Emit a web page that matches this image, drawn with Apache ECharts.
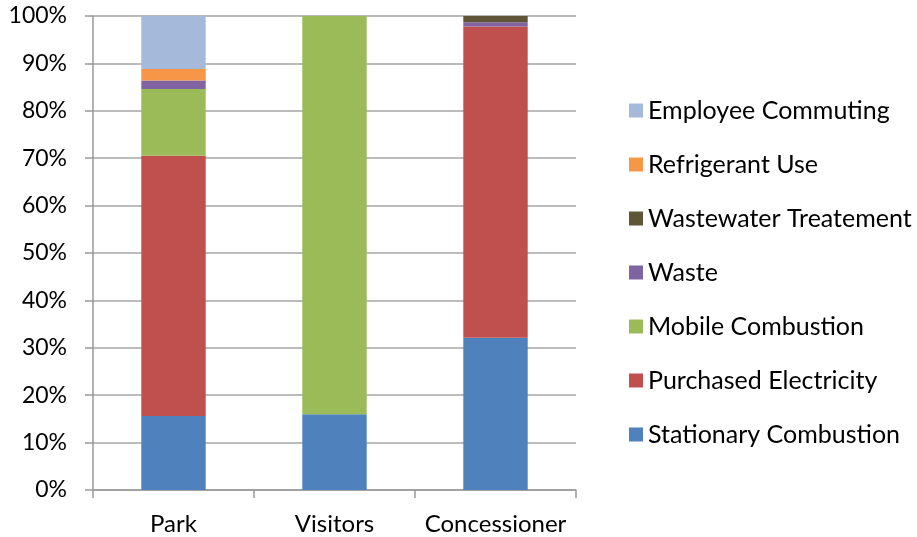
<!DOCTYPE html>
<html><head><meta charset="utf-8">
<script src="https://cdn.jsdelivr.net/npm/echarts@6/dist/echarts.min.js"></script>
<style>html,body{margin:0;padding:0;background:#fff}#c{width:917px;height:537px}</style>
</head><body><div id="c"></div>
<script>
var categories = ['Park', 'Visitors', 'Concessioner'];
var stationaryCombustion = [15.6, 16.0, 32.1];
var purchasedElectricity = [54.9, 0, 65.7];
var mobileCombustion = [14.1, 84.0, 0];
var waste = [1.8, 0, 0.9];
var wastewaterTreatment = [0, 0, 1.3];
var refrigerantUse = [2.4, 0, 0];
var employeeCommuting = [11.2, 0, 0];
var yTicks = [0, 10, 20, 30, 40, 50, 60, 70, 80, 90, 100];

var seriesDefs = [
  ['Stationary Combustion', stationaryCombustion, '#4F81BD'],
  ['Purchased Electricity', purchasedElectricity, '#C0504D'],
  ['Mobile Combustion', mobileCombustion, '#9BBB59'],
  ['Waste', waste, '#8064A2'],
  ['Wastewater Treatement', wastewaterTreatment, '#5E5637'],
  ['Refrigerant Use', refrigerantUse, '#F79646'],
  ['Employee Commuting', employeeCommuting, '#A5B9DB']
];
var font = 'Lato';
var chart = echarts.init(document.getElementById('c'));
chart.setOption({
  animation: false,
  textStyle: {fontFamily: font},
  grid: {left: 93, top: 16, width: 483, height: 474, containLabel: false},
  legend: {
    orient: 'vertical', left: 624, top: 93, itemGap: 29,
    itemWidth: 14, itemHeight: 14, icon: 'rect',
    data: seriesDefs.map(function(s){return s[0];}).reverse(),
    textStyle: {fontFamily: font, fontSize: 25, color: '#000', lineHeight: 25}
  },
  xAxis: {
    type: 'category', data: categories,
    axisLine: {show: true, lineStyle: {color: '#999', width: 1.5}},
    axisTick: {show: true, length: 8, lineStyle: {color: '#999', width: 1.5}},
    axisLabel: {fontFamily: font, fontSize: 24, color: '#000', margin: 22, interval: 0}
  },
  yAxis: {
    type: 'value', min: yTicks[0], max: yTicks[yTicks.length-1], interval: 10,
    axisLine: {show: true, lineStyle: {color: '#999', width: 1.5}},
    axisTick: {show: true, length: 8, lineStyle: {color: '#999', width: 1.5}},
    splitLine: {show: true, lineStyle: {color: '#a6a6a6', width: 1.5}},
    axisLabel: {fontFamily: font, fontSize: 23, color: '#000', margin: 26, formatter: '{value}%'}
  },
  series: seriesDefs.map(function(s){
    return {name: s[0], type: 'bar', stack: 'total', barWidth: '40%', data: s[1], itemStyle: {color: s[2]}};
  })
});
</script></body></html>
